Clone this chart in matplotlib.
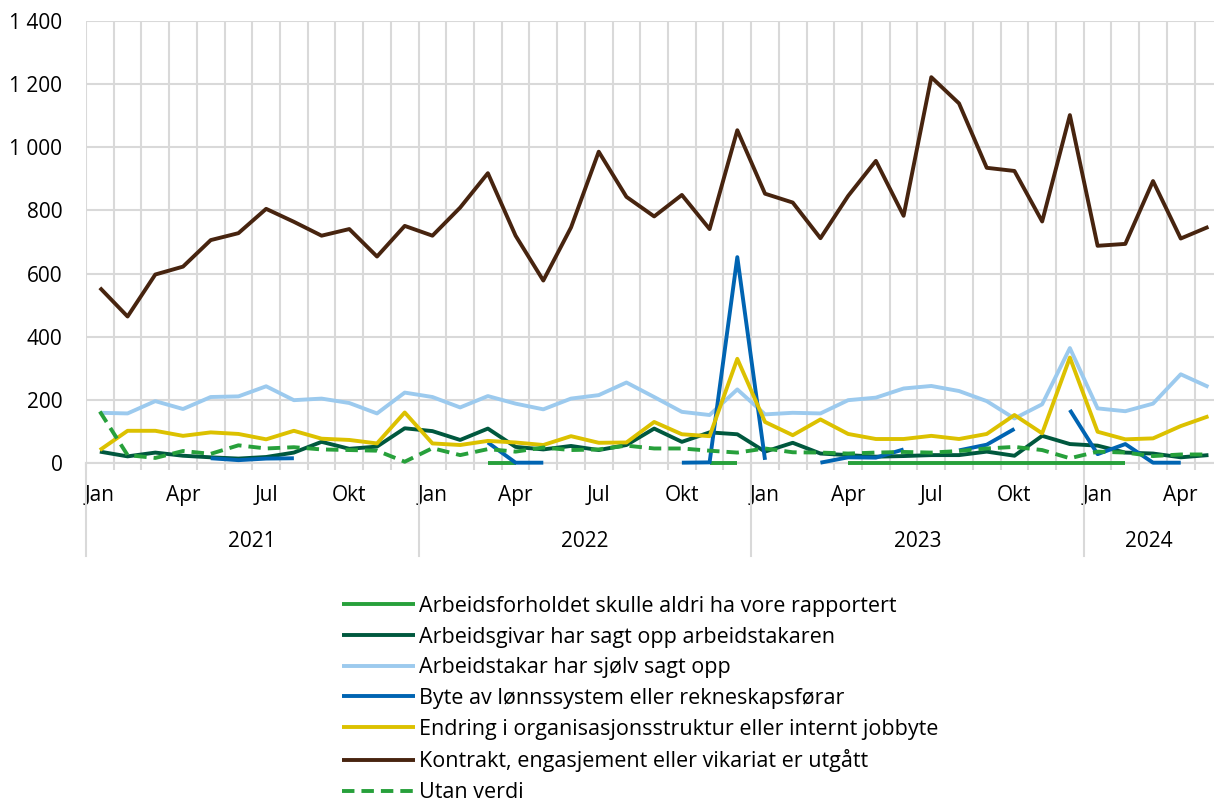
import numpy as np
import matplotlib
matplotlib.use("Agg")
import matplotlib.pyplot as plt
from matplotlib import transforms

plt.rcParams['font.family'] = ['Open Sans', 'DejaVu Sans']

nan = np.nan

# månader jan 2021 - mai 2024
month_names = ['Jan', 'Feb', 'Mar', 'Apr', 'Mai', 'Jun', 'Jul', 'Aug', 'Sep', 'Okt', 'Nov', 'Des']
years = [2021, 2022, 2023, 2024]
n_months = 41

aldri = [nan, nan, nan, nan, nan, nan, nan, nan, nan, nan, nan, nan,
         nan, nan, 1, 1, nan, nan, nan, nan, nan, nan, 1, 1,
         nan, nan, nan, 1, 1, 1, 1, 1, 1, 1, 1, 1, 1, 1, nan, nan, nan]

arbeidsgivar = [36, 21, 33, 23, 18, 14, 19, 33, 67, 45, 52, 110,
                101, 73, 109, 51, 43, 54, 41, 57, 109, 67, 97, 91,
                36, 64, 30, 25, 20, 22, 25, 25, 36, 23, 86, 60,
                55, 33, 30, 18, 25]

sjolv = [159, 157, 196, 171, 209, 211, 243, 199, 204, 190, 157, 223,
         209, 176, 212, 188, 170, 204, 215, 255, 209, 162, 152, 233,
         154, 159, 157, 199, 207, 236, 244, 228, 196, 141, 186, 364,
         173, 164, 188, 281, 241]

lonnssystem = [nan, nan, nan, nan, 15, 9, 14, 15, nan, nan, nan, nan,
               nan, nan, 65, 1, 1, nan, nan, nan, nan, 1, 2, 652,
               10, nan, 1, 18, 17, 43, nan, 40, 58, 108, nan, 168,
               28, 60, 1, 1, nan]

endring = [41, 102, 102, 86, 97, 92, 75, 102, 77, 73, 62, 160,
           62, 57, 70, 65, 57, 85, 64, 65, 130, 91, 85, 330,
           130, 88, 138, 92, 76, 76, 86, 76, 92, 152, 94, 334,
           99, 75, 78, 117, 148]

kontrakt = [555, 464, 597, 622, 706, 728, 805, 764, 720, 741, 654, 751,
            720, 809, 918, 720, 578, 746, 986, 843, 781, 849, 741, 1054,
            853, 825, 712, 846, 957, 783, 1222, 1139, 935, 925, 765, 1102,
            688, 694, 893, 711, 748]

utan = [163, 25, 16, 38, 29, 56, 46, 50, 43, 41, 39, 4,
        47, 25, 44, 36, 49, 41, 43, 55, 46, 46, 39, 33,
        46, 34, 33, 30, 33, 35, 33, 38, 46, 51, 41, 15,
        36, 33, 22, 27, 27]

series = [
    ("Arbeidsforholdet skulle aldri ha vore rapportert", aldri, "#27a03b", "-"),
    ("Arbeidsgivar har sagt opp arbeidstakaren", arbeidsgivar, "#00583e", "-"),
    ("Arbeidstakar har sjølv sagt opp", sjolv, "#9ccaee", "-"),
    ("Byte av lønnssystem eller rekneskapsførar", lonnssystem, "#0064b2", "-"),
    ("Endring i organisasjonsstruktur eller internt jobbyte", endring, "#dcc100", "-"),
    ("Kontrakt, engasjement eller vikariat er utgått", kontrakt, "#47240f", "-"),
    ("Utan verdi", utan, "#27a03b", (0, (3.2, 1.8))),
]

fig = plt.figure(figsize=(12.14, 8.09), dpi=100)
ax = fig.add_axes([86 / 1214, 1 - 463 / 809, 1 - 86 / 1214, (463 - 21) / 809])

x = np.arange(n_months)
for label, vals, col, ls in series:
    ax.plot(x, np.array(vals, dtype=float), color=col, lw=2.8, ls=ls, label=label,
            solid_capstyle='butt', dash_capstyle='butt', clip_on=False, zorder=3)

grid_col = '#d9d9d9'
fs = 15
ax.set_yticks(range(0, 1401, 200))
ax.set_yticklabels([f"{v:,}".replace(",", " ") for v in range(0, 1401, 200)])

ax.set_xticks(x[::3])
ax.set_xticklabels([month_names[i % 12] for i in x[::3]])
ax.set_xticks(np.arange(-0.5, n_months, 1), minor=True)
ax.set_ylim(0, 1400)
ax.set_xlim(-0.5, 40.2)
ax.tick_params(axis='x', which='major', length=0, pad=16, labelsize=fs)
ax.tick_params(axis='x', which='minor', length=5, color=grid_col, width=1.5)
ax.tick_params(axis='y', length=0, pad=17, labelsize=fs)

ax.grid(axis='y', which='major', color=grid_col, lw=1.5)
ax.grid(axis='x', which='minor', color=grid_col, lw=1.5)
ax.set_axisbelow(True)
for s in ['top', 'right', 'left']:
    ax.spines[s].set_visible(False)
ax.spines['bottom'].set_color(grid_col)
ax.spines['bottom'].set_linewidth(1.5)

# årsgrupper under aksen
trans = transforms.blended_transform_factory(ax.transData, ax.transAxes)
bounds = [-0.5, 11.5, 23.5, 35.5, 40.5]
for b in bounds[:-1]:
    ax.plot([b, b], [0, -0.21], transform=trans, color=grid_col, lw=1.5, clip_on=False)
for i, yr in enumerate(years):
    mid = (bounds[i] + min(bounds[i + 1], 40.2)) / 2
    ax.text(mid, -0.178, str(yr), transform=trans, ha='center', va='center', fontsize=fs)
ax.set_xlim(-0.5, 40.2)

fig.legend(loc='lower center', bbox_to_anchor=(0.5275, -0.006), ncol=1, frameon=False,
           fontsize=15.5, handlelength=3.35, handletextpad=0.2, labelspacing=0.45,
           borderpad=0)

fig.savefig("out.png", dpi=100)
